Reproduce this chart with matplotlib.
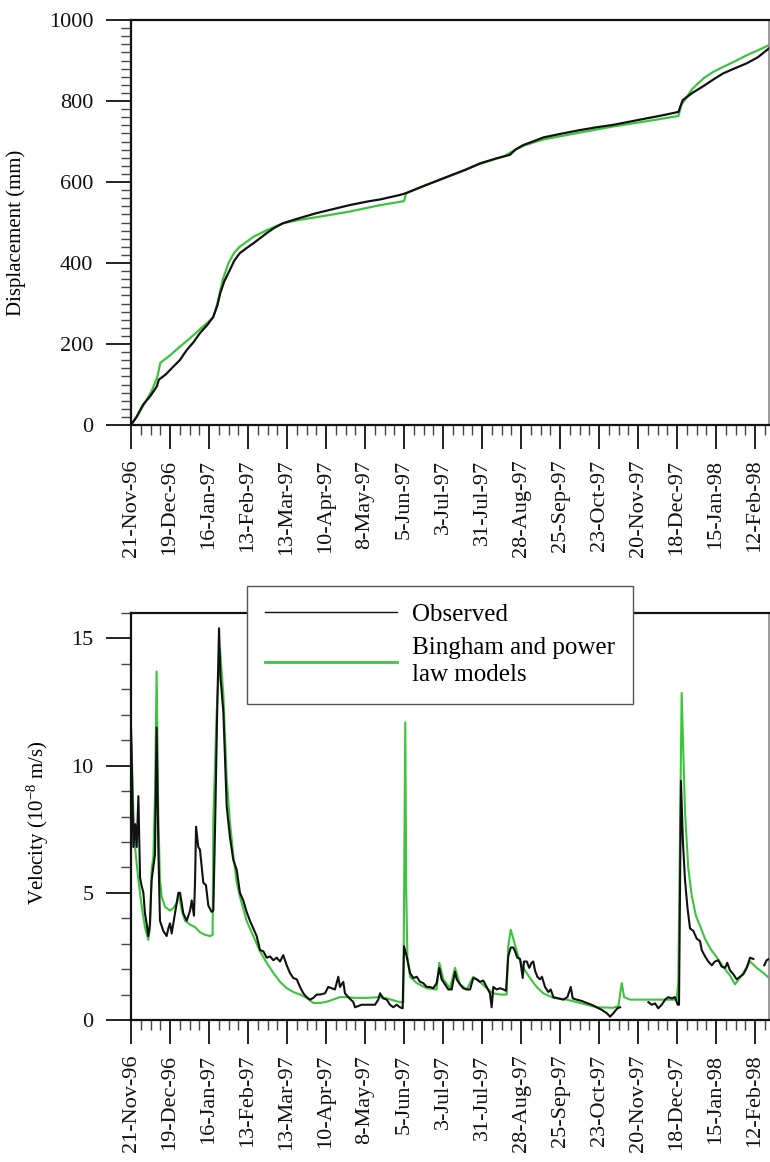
import datetime as dt

import matplotlib
matplotlib.use("Agg")
import matplotlib.pyplot as plt
import matplotlib.dates as mdates
from matplotlib.lines import Line2D
from matplotlib.ticker import MultipleLocator, FixedLocator, FixedFormatter

plt.rcParams['font.family'] = ['Liberation Serif', 'DejaVu Serif']
plt.rcParams['mathtext.fontset'] = 'custom'
plt.rcParams['mathtext.rm'] = 'Liberation Serif'
plt.rcParams['mathtext.it'] = 'Liberation Serif:italic'

# ---------------------------------------------------------------- data
START = dt.datetime(1996, 11, 21)

TICK_LABELS = ['21-Nov-96', '19-Dec-96', '16-Jan-97', '13-Feb-97', '13-Mar-97',
               '10-Apr-97', '8-May-97', '5-Jun-97', '3-Jul-97', '31-Jul-97',
               '28-Aug-97', '25-Sep-97', '23-Oct-97', '20-Nov-97', '18-Dec-97',
               '15-Jan-98', '12-Feb-98']

# cumulative displacement (mm), days since 21-Nov-96
DISP_OBS_DAY = [0, 4, 8.6, 14, 18.5, 20, 25, 30, 35, 40, 45, 49.5, 55, 59, 62, 64,
                67, 71, 74, 78, 83, 88, 97.5, 103, 109, 120, 133, 145, 157, 170,
                179, 193, 197, 210, 227, 240, 250.5, 262, 272, 276, 281.5, 290,
                296, 310, 322, 334, 346, 358, 370, 382, 393, 396, 403, 411, 418,
                425, 433, 442, 450, 458]
DISP_OBS = [0, 20, 50, 72, 95, 112, 125, 143, 160, 185, 205, 227, 248, 267, 295,
            325, 355, 383, 405, 424, 437, 449, 474, 487, 498, 510, 523, 533, 543,
            552, 557, 568, 572, 590, 613, 630, 646, 658, 667, 680, 691, 702, 710,
            720, 728, 735, 741, 749, 757, 765, 773, 802, 820, 837, 853, 868, 880,
            893, 908, 930]

DISP_MOD_DAY = [0, 5, 10, 15, 19, 21, 28, 35, 42, 50, 59, 62, 66, 70, 74, 78, 88,
                97.5, 109, 120, 133, 157, 179, 193, 196, 197.5, 210, 227, 250, 268,
                276, 282, 296, 322, 346, 370, 393, 395, 403, 411, 418, 425, 433,
                442, 450, 458]
DISP_MOD = [0, 25, 55, 85, 120, 153, 172, 193, 213, 238, 265, 300, 360, 400, 425,
            440, 465, 481, 498, 506, 513, 527, 543, 551, 553, 572, 590, 612, 644,
            664, 680, 690, 705, 722, 737, 750, 763, 790, 830, 856, 872, 884, 897,
            913, 925, 938]

# velocity (1e-8 m/s); NaN marks missing records
nan = float('nan')
VEL_OBS_DAY = [0, 0.8, 1.7, 3.0, 4.1, 5.3, 6.5, 7.5, 8.9, 10, 11.2, 12.4, 13.6,
               14.8, 16.0, 17.2, 18.4, 19.6, 20.8, 22.0, 23.2, 24.4, 25.6, 26.8,
               28, 29.2, 30.4, 31.6, 32.8, 34, 35.2, 36.4, 37.5, 40, 42.4, 43.6,
               45.2, 46.0, 46.7, 48.3, 49.5, 51.9, 53.8, 55.5, 57.9, 59.1, 60.5,
               62.0, 63.2, 64.2, 66.3, 68.7, 71, 73.4, 75.9, 78.2, 80.6, 83, 85.4,
               87.8, 90.2, 92.6, 95, 97.4, 99.8, 102.2, 104.6, 107, 109.3, 111.8,
               114.1, 116.5, 119, 121.3, 123.7, 126.1, 128.5, 130.9, 133.3, 135.7,
               139.3, 141.6, 144.1, 146.4, 148.8, 150, 152.4, 153.6, 156, 159.6,
               160.8, 163.2, 165.6, 168, 171.6, 175.2, 177.5, 178.8, 181.1, 183.6,
               185.9, 188.3, 190.7, 193.1, 195, 196, 197.9, 200.3, 202.7, 205.1,
               207.5, 209.8, 212.3, 214.6, 217, 219.4, 221.3, 223, 225.4, 227.8,
               230.2, 232.6, 233.8, 236.2, 238.5, 241, 243.4, 245.7, 248.2, 250.5,
               252.9, 255.3, 257.7, 258.9, 260.1, 262.5, 264.9, 267.3, 269.2,
               270.8, 272.6, 274.4, 275.7, 277.3, 279.3, 281.2, 282.1, 284.1,
               285.9, 287.6, 288.8, 290, 291.7, 293.6, 295, 297.2, 299.6, 301.3,
               303.2, 306.8, 310.4, 313.3, 315.7, 317.1, 320, 323.5, 327.2, 330.7,
               334.3, 337.9, 341.5, 343.9, 346.3, 349.1, 351.1, 361, 371.4, 373.8,
               376.2, 378.5, 381, 383.4, 385.7, 388.2, 390.5, 392.5, 393.4, 394.8,
               396.2, 397.7, 399.5, 401.3, 403.7, 406.1, 408.5, 409.7, 412.1,
               414.4, 416.9, 419.2, 421.6, 424, 426.5, 428, 430, 432.4, 434.8,
               437.2, 439.6, 442, 444.4, 446.8, 451, 454.6, 456.3, 458]
VEL_OBS = [11.5, 9.5, 6.8, 7.7, 6.8, 8.8, 5.6, 5.3, 5.0, 4.2, 3.8, 3.3, 3.8, 5.5,
           6.0, 6.5, 11.5, 6.8, 3.9, 3.7, 3.5, 3.4, 3.3, 3.6, 3.8, 3.4, 3.8, 4.2,
           4.6, 5.0, 5.0, 4.6, 4.2, 3.9, 4.3, 4.7, 4.1, 5.5, 7.6, 6.8, 6.7, 5.4,
           5.3, 4.5, 4.25, 4.3, 8.0, 12.5, 15.4, 13.5, 12.1, 8.4, 7.2, 6.3, 5.9,
           5.0, 4.7, 4.25, 3.9, 3.6, 3.3, 2.75, 2.7, 2.45, 2.5, 2.35, 2.45, 2.3,
           2.55, 2.15, 1.85, 1.65, 1.6, 1.3, 1.05, 0.9, 0.8, 0.87, 1.0, 1.0, 1.05,
           1.3, 1.25, 1.2, 1.7, 1.3, 1.5, 1.05, 0.9, 0.7, 0.5, 0.55, 0.6, 0.6, 0.6,
           0.6, 0.8, 1.05, 0.85, 0.8, 0.6, 0.5, 0.6, 0.5, 0.46, 2.9, 2.5, 1.85,
           1.65, 1.7, 1.5, 1.45, 1.3, 1.3, 1.25, 1.45, 2.05, 1.6, 1.4, 1.2, 1.2,
           1.9, 1.6, 1.4, 1.25, 1.2, 1.2, 1.65, 1.6, 1.5, 1.55, 1.3, 1.05, 0.5, 1.3,
           1.2, 1.25, 1.2, 1.15, 2.5, 2.85, 2.85, 2.7, 2.45, 2.4, 1.65, 2.3, 2.3,
           2.05, 2.25, 2.3, 1.95, 1.7, 1.6, 1.7, 1.3, 1.1, 1.2, 0.9, 0.85, 0.8,
           0.9, 1.3, 0.85, 0.8, 0.75, 0.67, 0.6, 0.5, 0.4, 0.27, 0.13, 0.27, 0.46,
           0.5, nan, 0.7, 0.6, 0.65, 0.46, 0.6, 0.8, 0.9, 0.85, 0.9, 0.6, 0.6, 9.4,
           7.0, 5.5, 4.4, 3.6, 3.5, 3.2, 3.1, 2.75, 2.5, 2.3, 2.15, 2.3, 2.35, 2.1,
           2.05, 2.25, 1.95, 1.8, 1.6, 1.7, 1.8, 2.05, 2.45, 2.4, nan, 2.15, 2.35,
           2.4]

VEL_MOD_DAY = [0, 0.8, 1.5, 2.9, 5.3, 7.7, 10, 12.4, 13.6, 14.8, 16, 17.2, 18.4,
               19.6, 20.8, 22, 24.4, 28, 30.4, 32.8, 34.7, 36.4, 38.8, 42.4, 46,
               49.5, 53.1, 56.7, 58.6, 59.1, 61.5, 63.9, 66.3, 68.7, 71, 73.4,
               75.9, 78.2, 83, 87.8, 92.6, 97.4, 102.2, 107, 111.8, 116.5, 121.3,
               126.1, 130.9, 135.7, 140.5, 145, 150, 154.8, 159.6, 169.2, 178.8,
               183.6, 193.1, 195.5, 196.9, 197.6, 198.4, 200.3, 205.1, 212.3,
               219.4, 221.3, 224.2, 229, 232.6, 236.2, 241, 245.7, 250.5, 255.3,
               260.1, 264.9, 269.7, 270.8, 272.6, 274.4, 278, 281.6, 286.4, 291.2,
               296, 303.2, 312.8, 322.3, 334.3, 346.3, 349.9, 352.3, 354, 358.2,
               370.2, 382.1, 391.7, 392.9, 395.3, 397.7, 400, 402.5, 405.5, 408.5,
               412, 416, 420, 425, 430, 433.6, 439.6, 444.4, 449.2, 454, 458]
VEL_MOD = [11.3, 10.0, 8.5, 6.8, 5.5, 4.45, 3.65, 3.15, 3.6, 5.9, 6.4, 8.8, 13.7,
           8.1, 5.5, 4.85, 4.45, 4.3, 4.4, 4.6, 4.9, 4.3, 3.9, 3.75, 3.65, 3.45,
           3.35, 3.3, 3.35, 7.9, 12.1, 14.6, 12.8, 9.5, 7.8, 6.5, 5.4, 4.85, 3.9,
           3.3, 2.7, 2.25, 1.85, 1.5, 1.25, 1.1, 1.0, 0.87, 0.67, 0.67, 0.72, 0.8,
           0.9, 0.9, 0.87, 0.87, 0.9, 0.85, 0.7, 0.7, 11.7, 5.0, 2.5, 1.7, 1.45,
           1.25, 1.2, 2.25, 1.6, 1.25, 2.05, 1.4, 1.2, 1.7, 1.5, 1.25, 1.05, 1.0,
           1.0, 2.9, 3.55, 3.2, 2.5, 2.05, 1.65, 1.3, 1.05, 0.87, 0.8, 0.67, 0.5,
           0.48, 0.55, 1.45, 0.9, 0.8, 0.8, 0.8, 0.8, 1.5, 12.86, 8.2, 6.0, 4.9,
           4.1, 3.7, 3.2, 2.8, 2.5, 2.1, 1.75, 1.4, 1.85, 2.3, 2.05, 1.85, 1.65]

# ---------------------------------------------------------------- helpers
def to_dates(days):
    return [START + dt.timedelta(days=float(d)) for d in days]


tick_dates = [dt.datetime.strptime(s, '%d-%b-%y') for s in TICK_LABELS]
tick_nums = mdates.date2num(tick_dates)
x_end = START + dt.timedelta(days=458)

BLACK = '#111111'
GREEN = '#3cc43c'
FS_TICK = 16
FS_LABEL = 15


def style_axes(ax):
    ax.set_xlim(START, x_end)
    ax.xaxis.set_major_locator(FixedLocator(tick_nums))
    ax.xaxis.set_major_formatter(FixedFormatter(TICK_LABELS))
    minor = mdates.date2num([START + dt.timedelta(days=7 * k) for k in range(0, 66)])
    ax.xaxis.set_minor_locator(FixedLocator(minor))
    ax.tick_params(axis='x', which='major', direction='out', length=17, width=1.3,
                   pad=8, labelsize=FS_TICK, labelrotation=90, colors=BLACK)
    ax.tick_params(axis='x', which='minor', direction='out', length=7, width=1.0,
                   color='#444444')
    ax.tick_params(axis='y', which='major', direction='out', length=18, width=1.3,
                   pad=9, labelsize=FS_TICK, colors=BLACK)
    ax.tick_params(axis='y', which='minor', direction='out', length=7, width=1.0,
                   color='#444444')
    for side in ('left', 'bottom', 'top'):
        ax.spines[side].set_linewidth(1.6)
        ax.spines[side].set_color(BLACK)
    ax.spines['right'].set_linewidth(1.2)
    ax.spines['right'].set_color('#8a8a8a')


# ---------------------------------------------------------------- figure
fig = plt.figure(figsize=(7.70, 11.62), dpi=100)
W, H = 770.0, 1162.0
ax1 = fig.add_axes([131 / W, 1 - 425 / H, 638 / W, 405 / H])
ax2 = fig.add_axes([131 / W, 1 - 1020 / H, 638 / W, 407 / H])

# displacement panel
ax1.plot(to_dates(DISP_OBS_DAY), DISP_OBS, color=BLACK, lw=1.6, zorder=3)
ax1.plot(to_dates(DISP_MOD_DAY), DISP_MOD, color=GREEN, lw=1.6, zorder=2)
ax1.set_ylim(0, 1000)
ax1.yaxis.set_major_locator(MultipleLocator(200))
ax1.yaxis.set_minor_locator(MultipleLocator(20))
style_axes(ax1)
ax1.set_ylabel('Displacement (mm)', fontsize=FS_LABEL)
ax1.yaxis.set_label_coords(-0.165, 0.475)

# velocity panel
ax2.plot(to_dates(VEL_OBS_DAY), VEL_OBS, color=BLACK, lw=1.5, zorder=3)
ax2.plot(to_dates(VEL_MOD_DAY), VEL_MOD, color=GREEN, lw=1.5, zorder=2)
ax2.set_ylim(0, 16)
ax2.yaxis.set_major_locator(MultipleLocator(5))
ax2.yaxis.set_minor_locator(MultipleLocator(1))
style_axes(ax2)
ax2.set_ylabel('Velocity (10$^{-8}$ m/s)', fontsize=FS_LABEL)
ax2.yaxis.set_label_coords(-0.125, 0.484)

handles = [Line2D([], [], color=BLACK, lw=1.0),
           Line2D([], [], color=GREEN, lw=2.0)]
leg = fig.legend(handles, ['Observed', 'Bingham and power\nlaw models'],
                 loc='upper left', bbox_to_anchor=(247 / W, 1 - 586 / H),
                 frameon=True, fancybox=False, edgecolor='#555555',
                 fontsize=18, handlelength=5.3, handletextpad=0.6,
                 borderpad=0.7, labelspacing=0.45, borderaxespad=0)
leg.get_frame().set_linewidth(1.0)
leg.get_frame().set_alpha(1.0)
for t in leg.get_texts():
    t.set_linespacing(1.3)

fig.savefig('out.png', dpi=100, facecolor='white')
